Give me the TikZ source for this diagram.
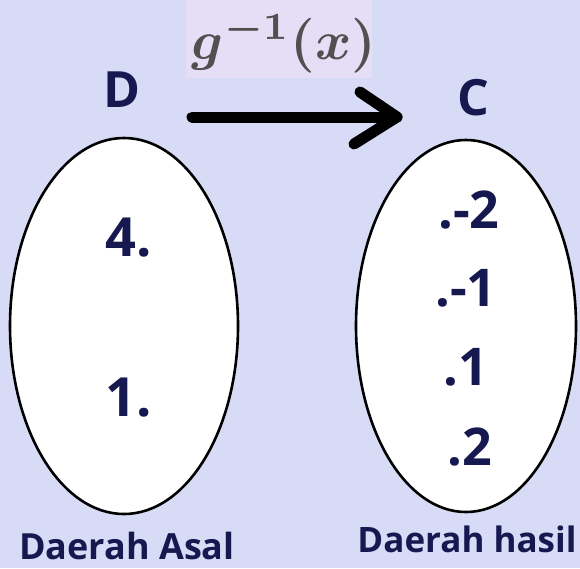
\documentclass[tikz,border=0pt]{standalone}
\usepackage{fontspec}
\usepackage{graphicx}
\setmainfont{Open Sans}
\usetikzlibrary{calc}
\definecolor{bgc}{RGB}{216,219,245}
\definecolor{boxc}{RGB}{230,222,246}
\definecolor{navy}{RGB}{22,24,80}
\definecolor{greyt}{RGB}{80,80,80}
\tikzset{
  lbl/.style={text=navy,font=\bfseries\fontsize{#1}{#1}\selectfont,inner sep=0pt},
  setshape/.style={draw=black,line width=2.6pt,fill=white},
  bigarrow/.style={line width=11pt,line cap=round,line join=round,black}
}
\begin{document}
\begin{tikzpicture}[x=1pt,y=-1pt]
\useasboundingbox (0,0) rectangle (580,568);
\fill[bgc] (0,0) rectangle (580,568);
\fill[boxc] (186,0) rectangle (372,78);
\node[text=greyt,inner sep=0pt] (title) at (284,43) {\scalebox{5.5}{\boldmath$g^{-1}(x)$}};
\node[lbl=50] (D) at (122,90) {D};
\node[lbl=50] (C) at (473,98) {C};
\coordinate (as) at (192,117);
\coordinate (ae) at (397,117);
\draw[bigarrow] (as) -- (ae);
\draw[bigarrow] ($(ae)+(-37,-25)$) -- (ae) -- ($(ae)+(-43,27)$);
\draw[setshape] (124,326) ellipse[x radius=114,y radius=188];
\draw[setshape] (466,326) ellipse[x radius=110,y radius=186];
\node[lbl=54] (d4) at (129,238) {4.};
\node[lbl=54] (d1) at (129,398) {1.};
\node[lbl=52] (cm2) at (469,210) {.-2};
\node[lbl=52] (cm1) at (466,288) {.-1};
\node[lbl=52] (c1) at (466,367) {.1};
\node[lbl=52] (c2) at (470,447) {.2};
\node[lbl=36] (asal) at (127,546) {Daerah Asal};
\node[lbl=35] (hasil) at (467,539) {Daerah hasil};
\end{tikzpicture}
\end{document}
